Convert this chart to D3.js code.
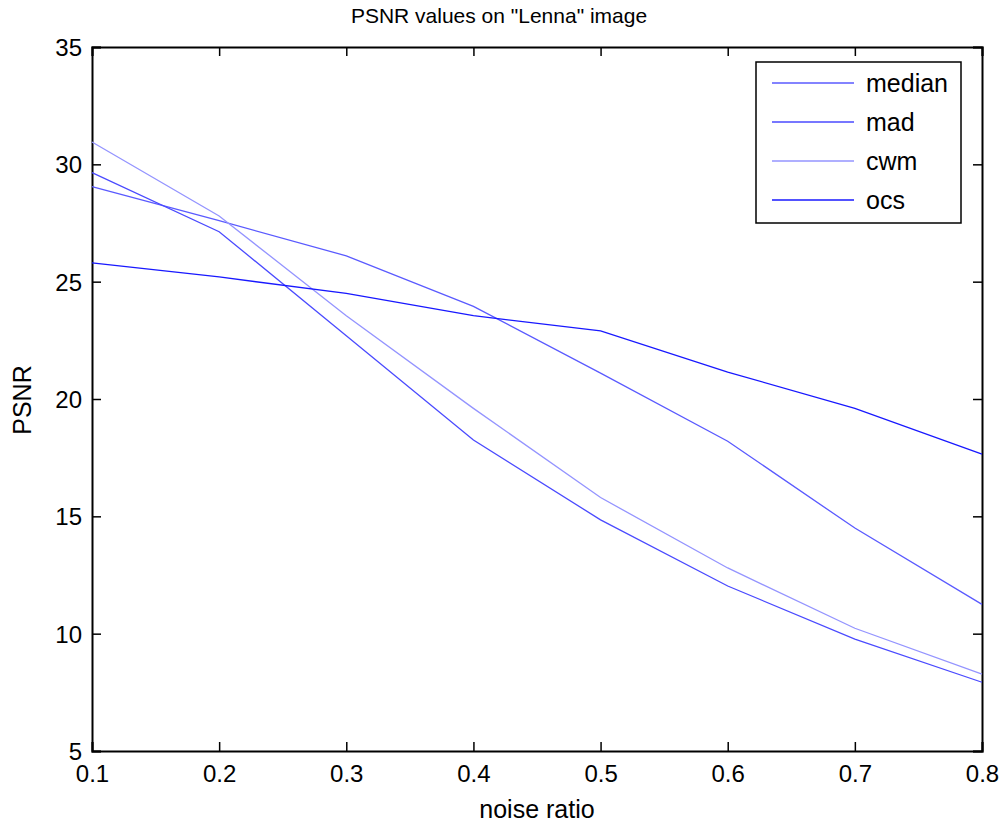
<!DOCTYPE html>
<html>
<head>
<meta charset="utf-8">
<script src="https://cdn.jsdelivr.net/npm/d3@7"></script>
<style>
    body { margin: 0; background: #fff; }
    text { font-family: "Liberation Sans", Arial, sans-serif; fill: #000; }
</style>
</head>
<body>
<div id="chart-area"></div>
<script>
// Data
var noiseRatio = [0.1, 0.2, 0.3, 0.4, 0.5, 0.6, 0.7, 0.8];
var median = [29.05, 27.6, 26.1, 23.95, 21.1, 18.2, 14.5, 11.25];
var mad    = [29.65, 27.13, 22.7, 18.25, 14.85, 12.03, 9.77, 7.93];
var cwm    = [30.95, 27.8, 23.55, 19.6, 15.8, 12.8, 10.23, 8.28];
var ocs    = [25.8, 25.2, 24.5, 23.55, 22.9, 21.15, 19.6, 17.65];
var seriesNames = ["median", "mad", "cwm", "ocs"];
var seriesColors = ["#5a5aff", "#4a4aff", "#9494ff", "#1818ff"];
var xTicks = [0.1, 0.2, 0.3, 0.4, 0.5, 0.6, 0.7, 0.8];
var yTicks = [5, 10, 15, 20, 25, 30, 35];

var series = [median, mad, cwm, ocs];

var margin = { left: 92, right: 21, top: 47, bottom: 75 };
var width = 1003 - margin.left - margin.right;
var height = 826 - margin.top - margin.bottom;

var svg = d3.select("#chart-area")
    .append("svg")
    .attr("width", 1003)
    .attr("height", 826);
var g = svg.append("g")
    .attr("transform", "translate(" + margin.left + "," + margin.top + ")");

var x = d3.scaleLinear().domain([0.1, 0.8]).range([0, width]);
var y = d3.scaleLinear().domain([5, 35]).range([height, 0]);

// Axes (ticks point inwards, like matlab)
var tickLen = 9;
var xAxis = g.append("g")
    .attr("transform", "translate(0," + height + ")")
    .call(d3.axisBottom(x).tickValues(xTicks).tickSize(-tickLen).tickPadding(14)
        .tickFormat(d3.format(".1f")));
var yAxis = g.append("g")
    .call(d3.axisLeft(y).tickValues(yTicks).tickSize(-tickLen).tickPadding(10));
var xTop = g.append("g")
    .call(d3.axisTop(x).tickValues(xTicks).tickSize(-tickLen).tickFormat(""));
var yRight = g.append("g")
    .attr("transform", "translate(" + width + ",0)")
    .call(d3.axisRight(y).tickValues(yTicks).tickSize(-tickLen).tickFormat(""));

[xAxis, yAxis, xTop, yRight].forEach(function(a) {
    a.select(".domain").attr("stroke", "#000").attr("stroke-width", 2);
    a.selectAll(".tick line").attr("stroke", "#000").attr("stroke-width", 1.5);
    a.selectAll(".tick text").attr("font-size", "24px").attr("fill", "#000")
        .style("font-family", "'Liberation Sans', Arial, sans-serif");
});
yAxis.selectAll(".tick text").attr("dy", "0.35em");
xAxis.selectAll(".tick text").attr("dy", "0.71em");

// Lines
var line = d3.line()
    .x(function(d, i) { return x(noiseRatio[i]); })
    .y(function(d) { return y(d); });

series.forEach(function(s, i) {
    g.append("path")
        .attr("d", line(s))
        .attr("fill", "none")
        .attr("stroke", seriesColors[i])
        .attr("stroke-width", 1.3);
});

// Title and labels
svg.append("text")
    .attr("x", 499)
    .attr("y", 23)
    .attr("text-anchor", "middle")
    .attr("font-size", "21px")
    .text('PSNR values on "Lenna" image');

svg.append("text")
    .attr("x", 537)
    .attr("y", 818)
    .attr("text-anchor", "middle")
    .attr("font-size", "25px")
    .text("noise ratio");

svg.append("text")
    .attr("transform", "translate(31,400) rotate(-90)")
    .attr("text-anchor", "middle")
    .attr("font-size", "25px")
    .text("PSNR");

// Legend
var legend = svg.append("g").attr("transform", "translate(756,62)");
legend.append("rect")
    .attr("width", 205)
    .attr("height", 161)
    .attr("fill", "#fff")
    .attr("stroke", "#000")
    .attr("stroke-width", 1.5);

seriesNames.forEach(function(name, i) {
    var row = legend.append("g").attr("transform", "translate(0," + (21 + i * 39) + ")");
    row.append("line")
        .attr("x1", 16)
        .attr("x2", 98)
        .attr("stroke", seriesColors[i])
        .attr("stroke-width", 1.3);
    row.append("text")
        .attr("x", 110)
        .attr("dy", "0.35em")
        .attr("font-size", "25px")
        .text(name);
});
</script>
</body>
</html>
